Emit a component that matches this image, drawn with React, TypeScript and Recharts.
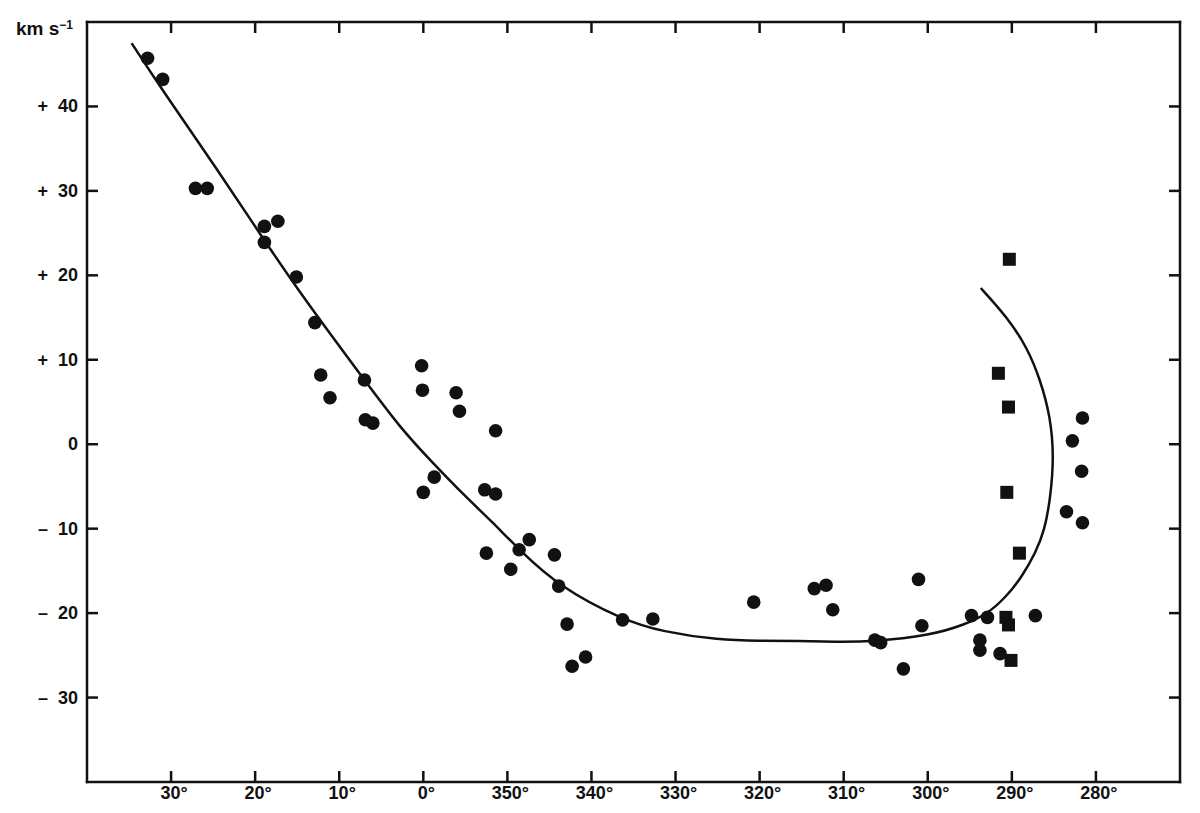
import { Scatter, ScatterChart, XAxis, YAxis } from "recharts";

const INK = "#111";
const FONT = "'Liberation Sans', Arial, sans-serif";

// galactic longitude (deg) and radial velocity (km/s)
const circleLon = [
  32.8, 31.0, 27.1, 25.7, 18.9, 17.3, 18.9, 15.1, 12.9, 12.2, 11.1, 7.0, 6.9, 6.0,
  0.2, 0.1, 0.0, 358.7, 356.1, 355.7, 351.4, 352.7, 351.4, 352.5, 349.6, 348.6,
  347.4, 344.4, 343.9, 342.9, 342.3, 340.7, 336.3, 332.7, 320.7, 313.5, 312.1,
  311.3, 306.3, 305.6, 302.9, 301.1, 300.7, 294.8, 293.8, 293.8, 292.9, 291.4,
  287.2, 283.5, 282.8, 281.7, 281.6, 281.6,
];
const circleVel = [
  45.7, 43.2, 30.3, 30.3, 25.8, 26.4, 23.9, 19.8, 14.4, 8.2, 5.5, 7.6, 2.9, 2.5,
  9.3, 6.4, -5.7, -3.9, 6.1, 3.9, 1.6, -5.4, -5.9, -12.9, -14.8, -12.5,
  -11.3, -13.1, -16.8, -21.3, -26.3, -25.2, -20.8, -20.7, -18.7, -17.1, -16.7,
  -19.6, -23.2, -23.5, -26.6, -16.0, -21.5, -20.3, -23.2, -24.4, -20.5, -24.8,
  -20.3, -8.0, 0.4, -3.2, 3.1, -9.3,
];

const squareLon = [290.3, 291.6, 290.4, 290.6, 289.1, 290.7, 290.4, 290.1];
const squareVel = [21.9, 8.4, 4.4, -5.7, -12.9, -20.5, -21.4, -25.6];

// traced fitted curve
const curveLon = [
  34.7, 31.3, 24.2, 19.5, 14.1, 7.0, 2.8, 358.9, 354.9, 351.8, 348.6, 343.8,
  336.3, 331.6, 324.8, 320.0, 315.3, 311.0, 306.7, 299.5, 295.7, 292.9, 290.7,
  288.8, 287.2, 286.1, 285.4, 285.0, 285.4, 286.6, 288.2, 290.6, 293.7,
];
const curveVel = [
  47.5, 42.3, 32.1, 25.0, 17.1, 7.6, 2.0, -2.2, -6.3, -9.2, -12.5, -16.9,
  -20.8, -22.2, -23.2, -23.3, -23.3, -23.4, -23.4, -22.6, -21.4, -20.1, -18.1,
  -15.7, -12.9, -10.2, -6.3, -1.5, 3.2, 7.6, 11.5, 15.1, 18.5,
];

const lonTicks = [30, 20, 10, 0, 350, 340, 330, 320, 310, 300, 290, 280];
const velTicks = [-30, -20, -10, 0, 10, 20, 30, 40];

// longitude runs 40° -> 0° -> 270°, unwrap it to a linear axis
const toU = (l: number) => (l <= 180 ? 40 - l : 400 - l);
const fromU = (u: number) => (40 - u >= 0 ? 40 - u : 400 - u);

const pts = (lon: number[], vel: number[]) => lon.map((l, i) => ({ u: toU(l), v: vel[i] }));
const circles = pts(circleLon, circleVel);
const squares = pts(squareLon, squareVel);
const curve = pts(curveLon, curveVel);

const TICK = 11;
const SW = 2.5;

const textStyle = { fontFamily: FONT, fontWeight: 700, fontSize: 18, fill: INK };

function BottomTick({ x, y, payload }: any) {
  return (
    <g>
      <line x1={x} x2={x} y1={y} y2={y - TICK} stroke={INK} strokeWidth={SW} />
      <text x={x + 3} y={y + 17} textAnchor="middle" style={textStyle}>
        {`${Math.round(fromU(payload.value))}°`}
      </text>
    </g>
  );
}

function TopTick({ x, y }: any) {
  return <line x1={x} x2={x} y1={y} y2={y + TICK} stroke={INK} strokeWidth={SW} />;
}

function velLabel(v: number) {
  if (v > 0) return `+\u00a0\u00a0${v}`;
  if (v < 0) return `\u2013\u00a0\u00a0${-v}`;
  return "0";
}

function LeftTick({ x, y, payload }: any) {
  return (
    <g>
      <line x1={x} x2={x + TICK} y1={y} y2={y} stroke={INK} strokeWidth={SW} />
      <text x={x - 9} y={y + 6} textAnchor="end" style={textStyle}>
        {velLabel(payload.value)}
      </text>
    </g>
  );
}

function RightTick({ x, y }: any) {
  return <line x1={x} x2={x - TICK} y1={y} y2={y} stroke={INK} strokeWidth={SW} />;
}

function UnitLabel({ viewBox }: any) {
  const vx = viewBox?.x ?? 0;
  const vy = viewBox?.y ?? 14;
  return (
    <text x={vx + 8} y={vy + 13} style={{ ...textStyle, fontSize: 19 }}>
      km s
      <tspan fontSize={12} dy={-6}>
        −1
      </tspan>
    </text>
  );
}

const Dot = ({ cx, cy }: any) => <circle cx={cx} cy={cy} r={6.8} fill={INK} />;
const Box = ({ cx, cy }: any) => <rect x={cx - 6.5} y={cy - 6.5} width={13} height={13} fill={INK} />;
const Nothing = () => <g />;

const axisLine = { stroke: INK, strokeWidth: SW, strokeLinecap: "square" as const };

export default function App() {
  return (
    <ScatterChart width={1192} height={805} margin={{ top: 0, right: 0, bottom: 0, left: 0 }}>
      <XAxis
        xAxisId="bottom"
        type="number"
        dataKey="u"
        domain={[0, 130]}
        ticks={lonTicks.map(toU)}
        height={31}
        tickSize={0}
        tickMargin={0}
        tickLine={false}
        axisLine={axisLine}
        tick={<BottomTick />}
        interval={0}
      />
      <XAxis
        xAxisId="top"
        orientation="top"
        type="number"
        dataKey="u"
        domain={[0, 130]}
        ticks={lonTicks.map(toU)}
        height={14}
        tickSize={0}
        tickMargin={0}
        tickLine={false}
        axisLine={axisLine}
        tick={<TopTick />}
        interval={0}
      />
      <YAxis
        yAxisId="left"
        type="number"
        dataKey="v"
        domain={[-40, 50]}
        ticks={velTicks}
        width={79}
        tickSize={0}
        tickMargin={0}
        tickLine={false}
        axisLine={axisLine}
        tick={<LeftTick />}
        interval={0}
        label={{ content: <UnitLabel /> }}
      />
      <YAxis
        yAxisId="right"
        orientation="right"
        type="number"
        dataKey="v"
        domain={[-40, 50]}
        ticks={velTicks}
        width={20}
        tickSize={0}
        tickMargin={0}
        tickLine={false}
        axisLine={axisLine}
        tick={<RightTick />}
        interval={0}
      />
      <Scatter
        xAxisId="top"
        yAxisId="right"
        data={curve}
        line={{ stroke: INK, strokeWidth: SW }}
        lineJointType="basis"
        shape={<Nothing />}
        isAnimationActive={false}
      />
      <Scatter xAxisId="bottom" yAxisId="left" data={circles} shape={<Dot />} isAnimationActive={false} />
      <Scatter xAxisId="bottom" yAxisId="left" data={squares} shape={<Box />} isAnimationActive={false} />
    </ScatterChart>
  );
}
